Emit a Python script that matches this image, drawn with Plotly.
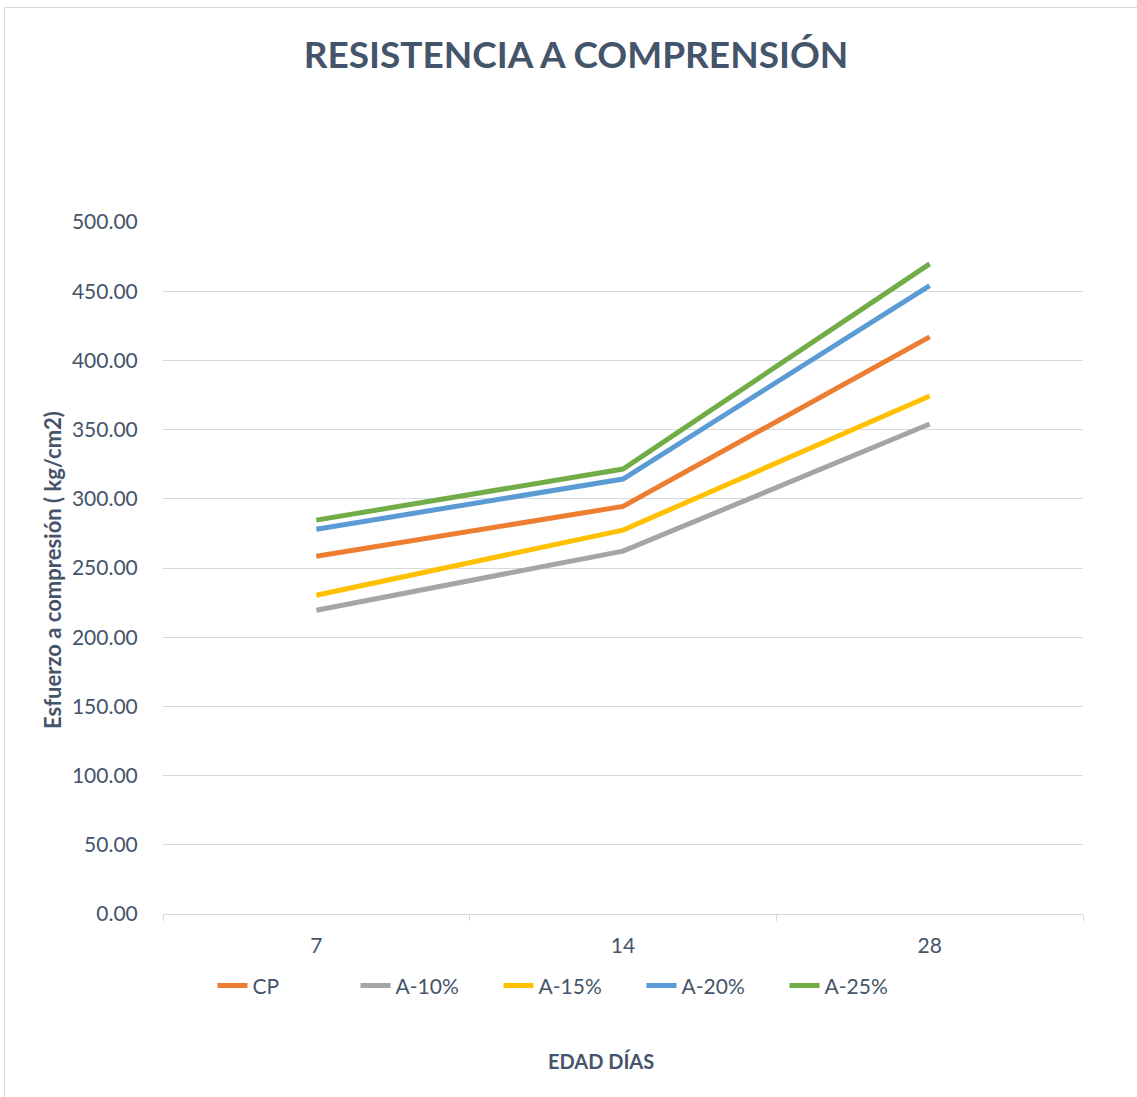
import plotly.graph_objects as go

edades = ["7", "14", "28"]
series_names = ["CP", "A-10%", "A-15%", "A-20%", "A-25%"]
cp = [258.5, 294.5, 417.0]
a10 = [219.5, 262.2, 354.0]
a15 = [230.3, 277.4, 374.3]
a20 = [278.0, 314.3, 454.0]
a25 = [284.6, 321.5, 469.8]
colors = ["#ED7D31", "#A5A5A5", "#FFC000", "#5B9BD5", "#70AD47"]
y_ticks = [0, 50, 100, 150, 200, 250, 300, 350, 400, 450, 500]

TXT = "#44546A"
FONT = "Lato, 'Open Sans', sans-serif"

fig = go.Figure()
xs = list(range(len(edades)))
for name, vals, col in zip(series_names, [cp, a10, a15, a20, a25], colors):
    fig.add_trace(go.Scatter(x=xs, y=vals, name=name, mode="lines",
                             line=dict(color=col, width=5)))

fig.update_layout(
    width=1137, height=1097,
    margin=dict(l=163, r=54, t=222, b=183),
    paper_bgcolor="white", plot_bgcolor="white",
    font=dict(family=FONT, color=TXT, size=21),
    title=dict(text="<b>RESISTENCIA A COMPRENSIÓN</b>", x=576/1137, xanchor="center",
               y=1-55/1097, yanchor="middle", yref="container",
               font=dict(size=37, color=TXT, family=FONT)),
    showlegend=True,
    legend=dict(orientation="h", x=(570-163)/920, xanchor="center", y=-0.104, yanchor="middle",
                font=dict(size=21, color=TXT), entrywidth=98, entrywidthmode="pixels"),
    xaxis=dict(range=[-0.5, 2.5], tickmode="array", tickvals=xs, ticktext=edades,
               showgrid=False, zeroline=False, showline=True, linecolor="#D9D9D9", linewidth=1,
               ticks="outside", ticklen=13, tickcolor="rgba(0,0,0,0)",
               minor=dict(tickmode="linear", tick0=-0.5, dtick=1, ticks="outside",
                          ticklen=6, tickcolor="#D9D9D9", showgrid=False),
               fixedrange=True),
    yaxis=dict(range=[0, 500], tickmode="array", tickvals=y_ticks,
               ticktext=[f"{v:.2f}" for v in y_ticks],
               showgrid=True, gridcolor="#D9D9D9", gridwidth=1, zeroline=False,
               showline=False, ticks="outside", ticklen=20, tickcolor="rgba(0,0,0,0)"),
)

fig.add_annotation(text="<b>Esfuerzo a compresión ( kg/cm2)</b>", xref="paper", yref="paper",
                   x=(52-163)/920, y=(914-570)/692, textangle=-90, showarrow=False,
                   xanchor="center", yanchor="middle", font=dict(size=22, color=TXT))
fig.add_annotation(text="<b>EDAD DÍAS</b>", xref="paper", yref="paper",
                   x=(601-163)/920, y=(914-1061)/692, showarrow=False,
                   xanchor="center", yanchor="middle", font=dict(size=20, color=TXT))

# chart-area border (left and top edges visible)
x_l = (4.5-163)/920
y_t = (914-7.5)/692
fig.add_shape(type="path", xref="paper", yref="paper",
              path=f"M {x_l},{(914-1100)/692} L {x_l},{y_t} L {(1140-163)/920},{y_t}",
              line=dict(color="#D9D9D9", width=1))

fig.write_html("out.html")
